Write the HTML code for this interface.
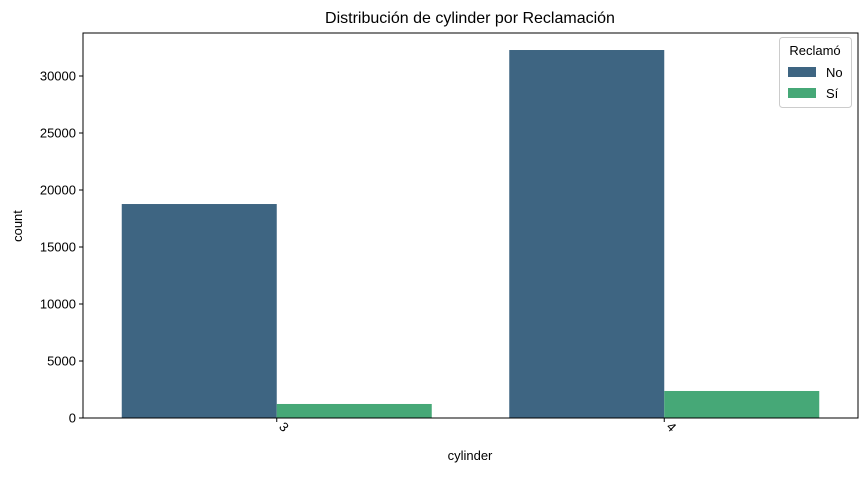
<!DOCTYPE html>
<html><head><meta charset="utf-8"><style>
body{margin:0;background:#fff;font-family:"Liberation Sans","DejaVu Sans",sans-serif}
</style></head><body>
<svg id="chart" width="868" height="473" xmlns="http://www.w3.org/2000/svg">
<text x="470" y="23" font-size="16" text-anchor="middle">Distribución de cylinder por Reclamación</text>
<g id="bars"></g>
<g id="yticks"></g>
<g id="xticks"></g>
<rect x="83" y="33" width="775" height="385" fill="none" stroke="#000" stroke-width="1"/>
<text x="470" y="460" font-size="13" text-anchor="middle">cylinder</text>
<text transform="translate(22,226) rotate(-90)" font-size="13" text-anchor="middle">count</text>
<g>
<rect x="779.5" y="37.5" width="72" height="70" rx="3" fill="#fff" stroke="#ccc"/>
<text x="815" y="55" font-size="13" text-anchor="middle">Reclamó</text>
<rect x="788" y="67" width="28" height="10" fill="#3e6582"/>
<text x="826" y="77" font-size="13">No</text>
<rect x="788" y="88" width="28" height="10" fill="#46a877"/>
<text x="826" y="98" font-size="13">Sí</text>
</g>
</svg>
<script>
const categories=["3","4"];
const seriesNames=["No","Sí"];
const seriesNo=[18770,32280];
const seriesSi=[1230,2370];
const yTicks=[0,5000,10000,15000,20000,25000,30000];
const colors=["#3e6582","#46a877"];
const NS="http://www.w3.org/2000/svg";
const L=83,R=858,B=418;
function yScale(v){return B-v*0.0114;}
const band=(R-L)/categories.length;
function xCenter(i){return L+band*(i+0.5);}
const bw=band*0.8/2;
const bars=document.getElementById('bars');
[seriesNo,seriesSi].forEach((s,si)=>{
  s.forEach((v,i)=>{
    const r=document.createElementNS(NS,'rect');
    const x=xCenter(i)-bw+si*bw;
    r.setAttribute('x',x);r.setAttribute('width',bw);
    r.setAttribute('y',yScale(v));r.setAttribute('height',B-yScale(v));
    r.setAttribute('fill',colors[si]);
    
    
    bars.appendChild(r);
  });
});
const yt=document.getElementById('yticks');
yTicks.forEach(t=>{
  const y=yScale(t);
  const l=document.createElementNS(NS,'line');
  l.setAttribute('x1',L-4);l.setAttribute('x2',L);l.setAttribute('y1',y);l.setAttribute('y2',y);l.setAttribute('stroke','#000');
  
  
  yt.appendChild(l);
  const tx=document.createElementNS(NS,'text');
  tx.setAttribute('x',L-7);tx.setAttribute('y',y+4.5);tx.setAttribute('font-size','13');tx.setAttribute('text-anchor','end');
  tx.textContent=t;
  
  
  yt.appendChild(tx);
});
const xt=document.getElementById('xticks');
categories.forEach((c,i)=>{
  const x=xCenter(i);
  const l=document.createElementNS(NS,'line');
  l.setAttribute('x1',x);l.setAttribute('x2',x);l.setAttribute('y1',B);l.setAttribute('y2',B+4);l.setAttribute('stroke','#000');
  
  
  xt.appendChild(l);
  const tx=document.createElementNS(NS,'text');
  tx.setAttribute('transform','translate('+(x+4)+','+(B+12)+') rotate(45)');
  tx.setAttribute('font-size','13');tx.setAttribute('text-anchor','middle');
  tx.textContent=c;
  
  
  xt.appendChild(tx);
});
</script>
</body></html>
